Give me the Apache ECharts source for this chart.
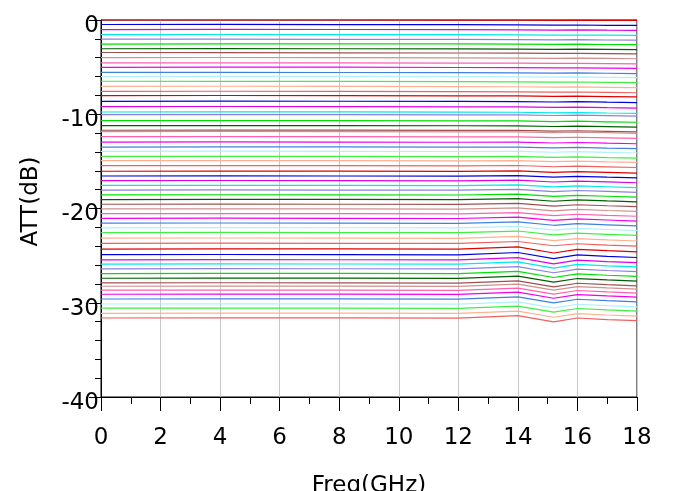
<!DOCTYPE html>
<html><head><meta charset="utf-8">
<script src="https://cdn.jsdelivr.net/npm/echarts@6/dist/echarts.min.js"></script>
<style>html,body{margin:0;padding:0;background:#fff}#c{width:680px;height:491px}</style>
</head><body><div id="c"></div>
<script>
const freqs = [0, 4, 8, 12, 14, 15.2, 16, 17, 18];
const xTicks = [0, 2, 4, 6, 8, 10, 12, 14, 16, 18];
const yTicks = [0, -10, -20, -30, -40];
const palette = ['#e00000','#0000e0','#e000e0','#00e8e8','#8a80e0','#00e000','#006000','#a05050',
                 '#d09090','#ff60b0','#f000f0','#4080e0','#b0f0ff','#40f040','#ffb090','#f06060'];
const att = [
[0.00,0.00,0.00,-0.01,-0.02,-0.03,-0.02,-0.04,-0.05],
[-0.48,-0.47,-0.49,-0.50,-0.52,-0.54,-0.53,-0.56,-0.58],
[-1.02,-1.00,-1.01,-1.03,-1.04,-1.07,-1.05,-1.08,-1.10],
[-1.55,-1.54,-1.55,-1.56,-1.58,-1.60,-1.59,-1.61,-1.63],
[-2.02,-2.03,-2.05,-2.06,-2.08,-2.10,-2.09,-2.12,-2.14],
[-2.55,-2.53,-2.52,-2.54,-2.56,-2.58,-2.57,-2.60,-2.62],
[-3.05,-3.04,-3.05,-3.07,-3.08,-3.11,-3.10,-3.12,-3.15],
[-3.45,-3.46,-3.48,-3.50,-3.52,-3.55,-3.54,-3.57,-3.60],
[-4.00,-3.98,-3.99,-4.02,-4.04,-4.07,-4.05,-4.08,-4.11],
[-4.55,-4.54,-4.55,-4.57,-4.58,-4.61,-4.60,-4.63,-4.66],
[-5.02,-5.00,-5.01,-5.04,-5.06,-5.09,-5.07,-5.10,-5.14],
[-5.55,-5.56,-5.57,-5.58,-5.60,-5.63,-5.62,-5.65,-5.68],
[-6.00,-5.98,-5.97,-6.00,-6.03,-6.06,-6.04,-6.08,-6.12],
[-6.50,-6.51,-6.52,-6.54,-6.56,-6.59,-6.58,-6.62,-6.65],
[-7.05,-7.03,-7.04,-7.06,-7.08,-7.12,-7.10,-7.14,-7.18],
[-7.57,-7.56,-7.58,-7.60,-7.62,-7.66,-7.64,-7.68,-7.72],
[-8.02,-8.01,-8.02,-8.04,-8.05,-8.10,-8.08,-8.12,-8.16],
[-8.63,-8.61,-8.62,-8.64,-8.65,-8.70,-8.67,-8.72,-8.76],
[-9.19,-9.18,-9.19,-9.21,-9.22,-9.28,-9.25,-9.30,-9.34],
[-9.76,-9.74,-9.75,-9.78,-9.79,-9.85,-9.82,-9.87,-9.91],
[-10.04,-10.03,-10.04,-10.06,-10.07,-10.13,-10.10,-10.15,-10.20],
[-10.68,-10.67,-10.68,-10.70,-10.71,-10.78,-10.74,-10.80,-10.85],
[-11.21,-11.20,-11.20,-11.22,-11.23,-11.30,-11.26,-11.32,-11.37],
[-11.70,-11.68,-11.69,-11.71,-11.72,-11.79,-11.75,-11.81,-11.86],
[-11.85,-11.83,-11.84,-11.86,-11.86,-11.94,-11.90,-11.96,-12.02],
[-12.38,-12.37,-12.38,-12.40,-12.40,-12.48,-12.44,-12.50,-12.56],
[-12.95,-12.94,-12.95,-12.97,-12.96,-13.05,-13.00,-13.07,-13.13],
[-13.48,-13.46,-13.47,-13.49,-13.48,-13.57,-13.52,-13.59,-13.65],
[-13.94,-13.92,-13.93,-13.95,-13.93,-14.03,-13.97,-14.05,-14.11],
[-14.47,-14.46,-14.47,-14.49,-14.47,-14.58,-14.52,-14.60,-14.66],
[-14.93,-14.91,-14.92,-14.94,-14.91,-15.03,-14.97,-15.05,-15.11],
[-15.46,-15.45,-15.46,-15.48,-15.44,-15.57,-15.50,-15.58,-15.65],
[-16.05,-16.03,-16.04,-16.06,-16.01,-16.17,-16.09,-16.17,-16.25],
[-16.55,-16.54,-16.55,-16.57,-16.51,-16.68,-16.59,-16.68,-16.76],
[-17.05,-17.03,-17.04,-17.06,-16.99,-17.19,-17.09,-17.18,-17.27],
[-17.55,-17.54,-17.55,-17.57,-17.49,-17.70,-17.60,-17.69,-17.78],
[-18.05,-18.03,-18.04,-18.06,-17.97,-18.21,-18.09,-18.19,-18.28],
[-18.55,-18.54,-18.55,-18.57,-18.47,-18.72,-18.60,-18.70,-18.79],
[-19.05,-19.03,-19.04,-19.06,-18.95,-19.23,-19.09,-19.20,-19.30],
[-19.55,-19.54,-19.55,-19.57,-19.45,-19.74,-19.60,-19.71,-19.81],
[-20.05,-20.03,-20.04,-20.06,-19.93,-20.25,-20.10,-20.21,-20.31],
[-20.55,-20.54,-20.55,-20.57,-20.43,-20.76,-20.61,-20.72,-20.82],
[-21.05,-21.03,-21.04,-21.06,-20.91,-21.27,-21.10,-21.22,-21.33],
[-21.55,-21.54,-21.55,-21.57,-21.41,-21.78,-21.61,-21.73,-21.84],
[-22.05,-22.03,-22.04,-22.06,-21.89,-22.29,-22.11,-22.23,-22.35],
[-22.55,-22.54,-22.55,-22.57,-22.39,-22.80,-22.62,-22.74,-22.86],
[-23.15,-23.13,-23.14,-23.16,-22.96,-23.40,-23.20,-23.33,-23.45],
[-23.70,-23.68,-23.69,-23.71,-23.50,-23.95,-23.74,-23.88,-24.00],
[-24.30,-24.28,-24.29,-24.31,-24.07,-24.72,-24.33,-24.48,-24.60],
[-24.90,-24.88,-24.89,-24.91,-24.67,-25.32,-24.93,-25.08,-25.20],
[-25.45,-25.43,-25.44,-25.46,-25.22,-25.87,-25.48,-25.63,-25.75],
[-25.90,-25.88,-25.89,-25.91,-25.67,-26.32,-25.93,-26.08,-26.20],
[-26.40,-26.38,-26.39,-26.41,-26.17,-26.82,-26.43,-26.58,-26.70],
[-26.90,-26.88,-26.89,-26.91,-26.67,-27.32,-26.93,-27.08,-27.20],
[-27.40,-27.38,-27.39,-27.41,-27.17,-27.82,-27.43,-27.58,-27.70],
[-27.90,-27.88,-27.89,-27.91,-27.67,-28.32,-27.93,-28.08,-28.20],
[-28.25,-28.23,-28.24,-28.26,-28.02,-28.67,-28.28,-28.43,-28.55],
[-28.67,-28.65,-28.66,-28.68,-28.44,-29.09,-28.70,-28.85,-28.97],
[-29.10,-29.08,-29.09,-29.11,-28.87,-29.52,-29.13,-29.28,-29.40],
[-29.60,-29.58,-29.59,-29.61,-29.37,-30.02,-29.63,-29.78,-29.90],
[-30.13,-30.11,-30.12,-30.14,-29.90,-30.55,-30.16,-30.31,-30.43],
[-30.58,-30.56,-30.57,-30.59,-30.35,-31.00,-30.61,-30.76,-30.88],
[-31.12,-31.10,-31.11,-31.13,-30.89,-31.54,-31.15,-31.30,-31.42],
[-31.62,-31.60,-31.61,-31.63,-31.36,-32.03,-31.62,-31.80,-31.90]
];
const FONT = '"DejaVu Sans", sans-serif';
const series = att.map((row, k) => ({
  type: 'line', showSymbol: false, symbol: 'none', animation: false,
  data: row.map((v, i) => [freqs[i], v]),
  lineStyle: { width: 1.2, color: palette[k % palette.length] },
  z: 3
}));
const chart = echarts.init(document.getElementById('c'), null, { renderer: 'canvas' });
chart.setOption({
  animation: false,
  grid: { left: 101, right: 43, top: 20, bottom: 94, show: true, borderColor: '#000', borderWidth: 1,
          backgroundColor: 'transparent', containLabel: false, outerBoundsMode: 'none' },
  xAxis: {
    type: 'value', min: xTicks[0], max: xTicks[xTicks.length - 1], interval: 2,
    name: 'Freq(GHz)', nameLocation: 'middle', nameGap: 78,
    nameTextStyle: { fontFamily: FONT, fontSize: 23, color: '#000' },
    axisLine: { onZero: false, lineStyle: { color: '#000', width: 1 } },
    axisTick: { inside: false, length: 14, lineStyle: { color: '#000' } },
    minorTick: { show: true, splitNumber: 2, length: 7, lineStyle: { color: '#000' } },
    splitLine: { show: true, lineStyle: { color: '#c8c8c8', width: 1 } },
    axisLabel: { margin: 30, fontFamily: FONT, fontSize: 23, color: '#000', showMaxLabel: true }
  },
  yAxis: {
    type: 'value', min: yTicks[yTicks.length - 1], max: yTicks[0], interval: 10,
    name: 'ATT(dB)', nameLocation: 'middle', nameGap: 58, nameRotate: 90,
    nameTextStyle: { fontFamily: FONT, fontSize: 23, color: '#000', padding: [0, 0, 0, 14] },
    axisLine: { onZero: false, lineStyle: { color: '#000', width: 1 } },
    axisTick: { inside: false, length: 12, lineStyle: { color: '#000' } },
    minorTick: { show: true, splitNumber: 5, length: 6, lineStyle: { color: '#000' } },
    splitLine: { show: false },
    axisLabel: { margin: 2, fontFamily: FONT, fontSize: 23, color: '#000', verticalAlign: 'top', lineHeight: 12 }
  },
  series: series
});
</script></body></html>
